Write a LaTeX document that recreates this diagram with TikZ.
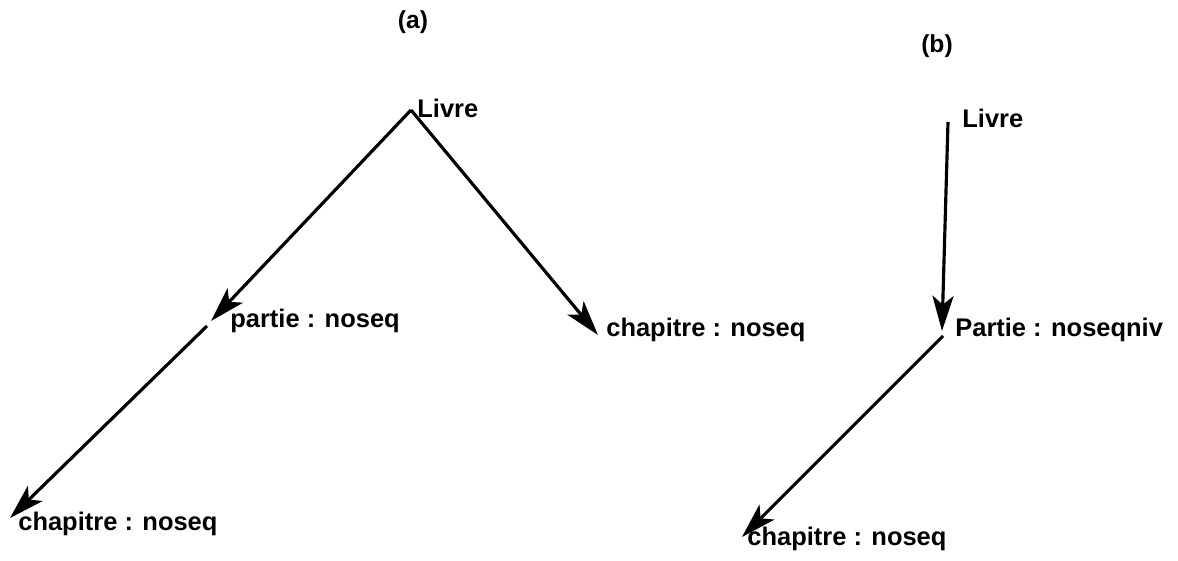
\documentclass[tikz,border=0pt]{standalone}
\usepackage{fontspec}
\setmainfont{Liberation Sans}
\usetikzlibrary{positioning,arrows.meta,calc}

\tikzset{
  lbl/.style={inner sep=0pt, anchor=base west, font=\bfseries\fontsize{14.5}{17}\selectfont},
  ttl/.style={inner sep=0pt, font=\bfseries\fontsize{14}{17}\selectfont},
  edge/.style={line width=1.8pt, -{Stealth[length=20pt,width=12pt,inset=5pt]}}
}

\begin{document}
\begin{tikzpicture}[x=0.02cm,y=-0.02cm]
			\useasboundingbox (0,0) rectangle (1178,561);
			% (a)
			\node [ttl] (titA) at (413,22) {(a)};
			\coordinate (topA) at (411,110);
			\coordinate (partA) at (211,321);
			\coordinate (chapA) at (10,518);
			\coordinate (chapR) at (598,335);
			\node [lbl] (livreA) at (417,117) {Livre};
			\node [lbl] (partieA) at (230,327) {partie : noseq};
			\node [lbl] (chapitreA) at (18,530) {chapitre : noseq};
			\node [lbl] (chapitreR) at (606,336) {chapitre : noseq};
			\draw [edge] (topA) -- (partA);
			\draw [edge] ([shift={(-4,5)}]partA) -- (chapA);
			\draw [edge] (topA) -- (chapR);
			% (b)
			\node [ttl] (titB) at (937,46) {(b)};
			\coordinate (topB) at (948,122);
			\coordinate (partB) at (942,331);
			\coordinate (chapB) at (742,537);
			\node [lbl] (livreB) at (962,127) {Livre};
			\node [lbl] (partieB) at (955,336) {Partie : noseqniv};
			\node [lbl] (chapitreB) at (747,545) {chapitre : noseq};
			\draw [edge] (topB) -- (partB);
			\draw [edge] ([shift={(1,5)}]partB) -- (chapB);
		\end{tikzpicture}
\end{document}
